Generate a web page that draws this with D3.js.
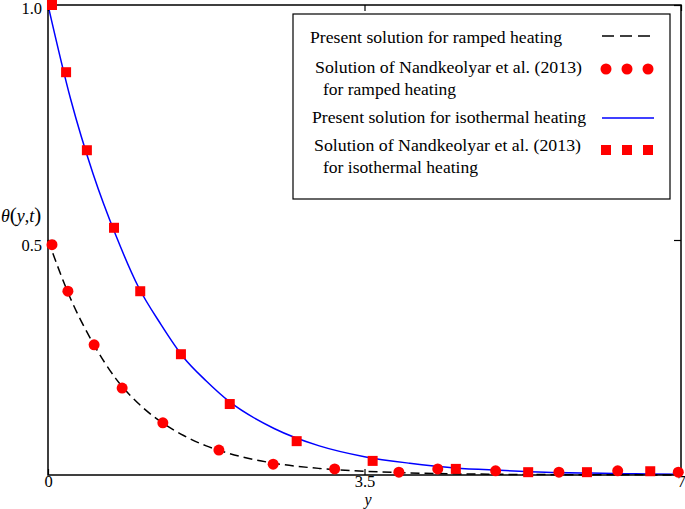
<!DOCTYPE html>
<html><head><meta charset="utf-8">
<script src="https://cdn.jsdelivr.net/npm/d3@7"></script>
<style>body{margin:0;background:#fff}svg{display:block}svg text{font-family:"Liberation Serif","Times New Roman","DejaVu Serif",serif !important}</style>
</head><body>
<script>
// Data
const rampLineX = [0,0.25,0.5,0.75,1.0,1.25,1.5,1.75,2.0,2.5,3.0,3.5,4.0,5.0,6.0,7.0];
const rampLineY = [0.5,0.375,0.28,0.205,0.152,0.113,0.084,0.062,0.046,0.025,0.014,0.008,0.0045,0.0015,0.0005,0.0002];
const isoLineX = [0,0.25,0.5,0.75,1.0,1.25,1.5,1.75,2.0,2.5,3.0,3.5,4.0,4.5,5.0,5.5,6.0,6.5,7.0];
const isoLineY = [1.0,0.80,0.64,0.51,0.40,0.32,0.25,0.20,0.157,0.099,0.062,0.039,0.025,0.015,0.010,0.006,0.004,0.0025,0.0015];
const rampPtsX = [0.044,0.22,0.51,0.82,1.27,1.89,2.49,3.17,3.88,4.31,4.95,5.65,6.30,6.97];
const rampPtsY = [0.49,0.391,0.277,0.185,0.111,0.053,0.023,0.013,0.006,0.013,0.009,0.006,0.009,0.006];
const isoPtsX = [0.044,0.2,0.43,0.73,1.02,1.47,2.01,2.75,3.59,4.51,5.31,5.96,6.66];
const isoPtsY = [1.0,0.857,0.691,0.526,0.391,0.257,0.151,0.072,0.030,0.013,0.006,0.006,0.008];
const xTicks = [0,3.5,7];
const xTickLabels = ["0","3.5","7"];
const yTicks = [0.5,1.0];
const yTickLabels = ["0.5","1.0"];
const legendLabels = ["Present solution for ramped heating","Solution of Nandkeolyar et al. (2013)","for ramped heating","Present solution for isothermal heating","Solution of Nandkeolyar et al. (2013)","for isothermal heating"];

const W=685,H=509;
const L=48,R=681,T=5,B=475;
const FONT='"Liberation Serif","Times New Roman",serif';
const svg=d3.select("body").append("svg").attr("width",W).attr("height",H);
const x=d3.scaleLinear().domain([0,7]).range([L,R]);
const y=d3.scaleLinear().domain([0,1]).range([B,T]);

const line=d3.line().x(d=>x(d[0])).y(d=>y(d[1])).curve(d3.curveMonotoneX);
svg.append("path").datum(isoLineX.map((v,i)=>[v,isoLineY[i]])).attr("d",line)
  .attr("fill","none").attr("stroke","#0000ff").attr("stroke-width",1.5);
svg.append("path").datum(rampLineX.map((v,i)=>[v,rampLineY[i]])).attr("d",line)
  .attr("fill","none").attr("stroke","#000").attr("stroke-width",1.5).attr("stroke-dasharray","9,5");

// frame
svg.append("rect").attr("x",L).attr("y",T).attr("width",R-L).attr("height",B-T)
  .attr("fill","none").attr("stroke","#000").attr("stroke-width",1.5);

// axes (ticks inward)
const xa=svg.append("g").attr("transform",`translate(0,${B})`)
  .call(d3.axisBottom(x).tickValues(xTicks).tickSize(-6).tickPadding(0).tickFormat((d,i)=>xTickLabels[i]));
const xt=svg.append("g").attr("transform",`translate(0,${T})`)
  .call(d3.axisTop(x).tickValues(xTicks).tickSize(-6).tickFormat(""));
const ya=svg.append("g").attr("transform",`translate(${L},0)`)
  .call(d3.axisLeft(y).tickValues(yTicks).tickSize(-7).tickPadding(6).tickFormat((d,i)=>yTickLabels[i]));
const yr=svg.append("g").attr("transform",`translate(${R},0)`)
  .call(d3.axisRight(y).tickValues(yTicks).tickSize(-7).tickFormat(""));
[xa,xt,ya,yr].forEach(g=>{g.attr("font-family",FONT).attr("font-size",16.5);g.select(".domain").remove();g.selectAll("line").attr("stroke","#000").attr("stroke-width",1.2);
  g.selectAll("text").attr("fill","#000");});
ya.selectAll("text").attr("dy",(d)=>d===1?"0.52em":"0.62em");
xa.selectAll("text").attr("y",12).attr("dy",0);

// markers
svg.append("g").selectAll("circle").data(rampPtsX).join("circle")
  .attr("cx",d=>x(d)).attr("cy",(d,i)=>y(rampPtsY[i])).attr("r",5.5).attr("fill","#ff0000");
svg.append("g").selectAll("rect").data(isoPtsX).join("rect")
  .attr("x",d=>x(d)-5).attr("y",(d,i)=>y(isoPtsY[i])-5).attr("width",10).attr("height",10).attr("fill","#ff0000");

// axis titles
svg.append("text").attr("x",368).attr("y",505).attr("text-anchor","middle").attr("font-family",FONT).attr("font-size",16).attr("font-style","italic").text("y");
const yl=svg.append("text").attr("x",1).attr("y",222).attr("font-family",FONT).attr("font-size",18);
yl.append("tspan").attr("font-style","italic").text("θ");
yl.append("tspan").attr("font-size",21).text("(");
yl.append("tspan").attr("font-style","italic").text("y");
yl.append("tspan").text(",");
yl.append("tspan").attr("font-style","italic").text("t");
yl.append("tspan").attr("font-size",21).text(")");

// legend
const lg=svg.append("g").attr("font-family",FONT);
lg.append("rect").attr("x",293).attr("y",14).attr("width",377).attr("height",185).attr("fill","#fff").attr("stroke","#000").attr("stroke-width",1.2);
const lx=[310,315,323,312,314,323], ly=[43,73,95,123,151,173], lw=[252,267,133,274,267,155];
legendLabels.forEach((t,i)=>lg.append("text").attr("x",lx[i]).attr("y",ly[i]).attr("font-size",16.5)
  .attr("textLength",lw[i]).attr("lengthAdjust","spacingAndGlyphs").text(t));
lg.append("line").attr("x1",602).attr("x2",650).attr("y1",36).attr("y2",36).attr("stroke","#000").attr("stroke-width",1.5).attr("stroke-dasharray","12,6");
lg.append("line").attr("x1",602).attr("x2",654).attr("y1",118).attr("y2",118).attr("stroke","#0000ff").attr("stroke-width",1.5);
[606,627,648].forEach(cx=>{
  lg.append("circle").attr("cx",cx).attr("cy",69).attr("r",5.5).attr("fill","#ff0000");
  lg.append("rect").attr("x",cx-5).attr("y",145).attr("width",10).attr("height",10).attr("fill","#ff0000");
});
</script>
</body></html>
